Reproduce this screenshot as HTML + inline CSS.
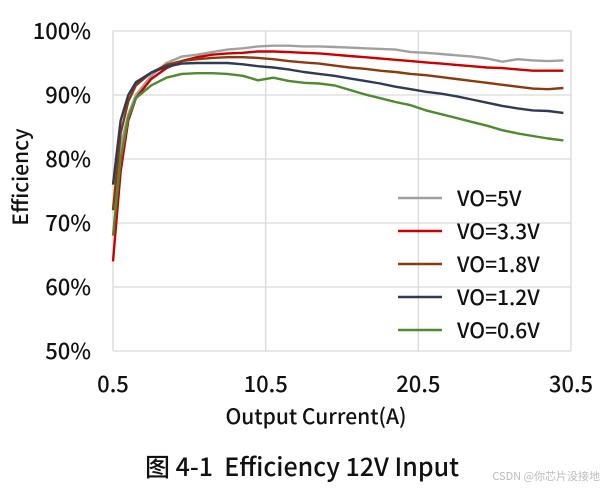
<!DOCTYPE html>
<html><head><meta charset="utf-8"><style>
body{margin:0;background:#fff;width:612px;height:488px;overflow:hidden}
svg{display:block;font-family:"Noto Sans CJK SC","Liberation Sans",sans-serif;font-weight:500}
</style></head><body>
<svg id="chart" width="612" height="488">
<g id="grid"></g>
<g id="ticks"></g>
<g id="series"></g>
<g id="legend"></g>
<text x="28" y="177" font-size="21" fill="#111" text-anchor="middle" transform="rotate(-90 28 177)">Efficiency</text>
<text x="316" y="424" font-size="21" fill="#111" text-anchor="middle">Output Current(A)</text>
<text x="302" y="476" font-size="25" fill="#111" text-anchor="middle" xml:space="preserve">图 4-1  Efficiency 12V Input</text>
<text x="600" y="480" font-size="11" font-weight="400" fill="#bbb" text-anchor="end">CSDN @你芯片没接地</text>
</svg>
<script>
const currents=[0.5,1,1.5,2,3,4,5,6,7,8,9,10,11,12,13,14,15,16,17,18,19,20,21,22,23,24,25,26,27,28,29,30];
const vo5=[72,82,87,90,93,95,96,96.3,96.7,97.1,97.3,97.6,97.7,97.7,97.6,97.6,97.5,97.4,97.3,97.2,97.1,96.7,96.6,96.4,96.2,96.0,95.7,95.2,95.6,95.4,95.3,95.4];
const vo33=[64,78,86,89.5,92.5,94.2,95.3,95.9,96.3,96.5,96.6,96.8,96.8,96.7,96.6,96.5,96.3,96.1,95.9,95.7,95.5,95.3,95.1,94.9,94.7,94.5,94.3,94.2,94.0,93.8,93.8,93.8];
const vo18=[72,84,89,91.5,93.5,94.7,95.3,95.6,95.8,95.9,95.9,95.8,95.6,95.3,95.1,94.9,94.6,94.3,94.1,93.8,93.6,93.3,93.1,92.8,92.5,92.2,91.9,91.6,91.3,91.0,90.9,91.1];
const vo12=[76,86,90,92,93.5,94.4,94.9,95.0,95.0,95.0,94.8,94.5,94.3,94.0,93.6,93.3,93.0,92.6,92.2,91.8,91.3,90.9,90.5,90.2,89.8,89.3,88.8,88.3,87.9,87.6,87.5,87.2];
const vo06=[68,80,86.5,89.5,91.5,92.7,93.3,93.4,93.4,93.3,93.0,92.3,92.7,92.2,91.9,91.8,91.5,90.8,90.1,89.5,88.9,88.4,87.6,87.0,86.4,85.8,85.2,84.5,84.0,83.6,83.2,82.9];
const seriesNames=["VO=5V","VO=3.3V","VO=1.8V","VO=1.2V","VO=0.6V"];
const seriesColors=["#a0a0a0","#cc0000","#8b3a0f","#2f3a55","#4e8a2e"];
const xTicks=[0.5,10.5,20.5,30.5];
const yTicks=[50,60,70,80,90,100];
const NS="http://www.w3.org/2000/svg";
const X0=113,X1=571,Y0=351,Y1=31;
const xs=v=>X0+(v-0.5)/30*(X1-X0);
const ys=v=>Y0-(v-50)/50*(Y0-Y1);
function mk(t,a,p){const e=document.createElementNS(NS,t);for(const k in a)e.setAttribute(k,a[k]);p.appendChild(e);return e;}
const grid=document.getElementById('grid'),ticks=document.getElementById('ticks'),ser=document.getElementById('series'),leg=document.getElementById('legend');
yTicks.forEach(v=>{
 const l=mk('line',{x1:X0,x2:X1,y1:ys(v),y2:ys(v),stroke:'#d9d9d9','stroke-width':1.3},grid);
 
 
 const t=mk('text',{x:91,y:ys(v)+8,'font-size':22,fill:'#111','text-anchor':'end'},ticks);
 t.textContent=v+'%';
 
 
});
xTicks.forEach(v=>{
 const l=mk('line',{x1:xs(v),x2:xs(v),y1:Y1,y2:Y0,stroke:'#d9d9d9','stroke-width':1.3},grid);
 
 
 const t=mk('text',{x:xs(v),y:392,'font-size':22,fill:'#111','text-anchor':'middle'},ticks);
 t.textContent=v;
 
 
});
[vo5,vo33,vo18,vo12,vo06].forEach((d,i)=>{
 const pts=d.map((v,j)=>xs(currents[j]).toFixed(1)+','+ys(v).toFixed(1)).join(' ');
 const p=mk('polyline',{points:pts,fill:'none',stroke:seriesColors[i],'stroke-width':2.4,'stroke-linejoin':'round'},ser);
 
 
 const y=198+i*33;
 const l=mk('line',{x1:398,x2:442,y1:y,y2:y,stroke:seriesColors[i],'stroke-width':2.5},leg);
 
 
 const t=mk('text',{x:457,y:y+8,'font-size':21,fill:'#111'},leg);
 t.textContent=seriesNames[i];
 
 
});
</script>
</body></html>
